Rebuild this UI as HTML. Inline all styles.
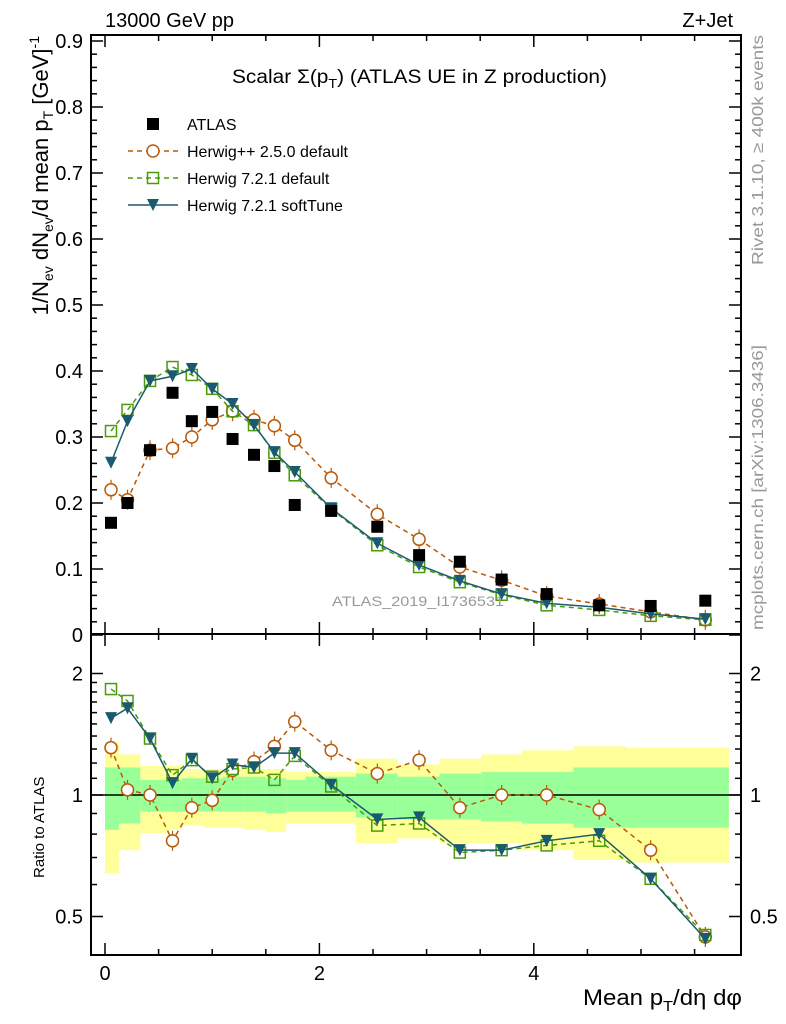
<!DOCTYPE html>
<html><head><meta charset="utf-8"><style>
body{margin:0;background:#fff;}
svg{display:block;font-family:"Liberation Sans",sans-serif;}
</style></head><body>
<svg id="c" width="786" height="1024" xmlns="http://www.w3.org/2000/svg">
<g id="bands"></g>
<g id="axes"></g>
<g id="series"></g>
<text x="105" y="27" font-size="20">13000 GeV pp</text>
<text x="733" y="27" font-size="20" text-anchor="end">Z+Jet</text>
<text x="232" y="83" font-size="19" textLength="375" lengthAdjust="spacingAndGlyphs">Scalar Σ(p<tspan font-size="13" dy="5">T</tspan><tspan dy="-5">) (ATLAS UE in Z production)</tspan></text>
<text x="332" y="606" font-size="14" fill="#999" textLength="172" lengthAdjust="spacingAndGlyphs">ATLAS_2019_I1736531</text>
<text transform="translate(763,265) rotate(-90)" font-size="16" fill="#999" textLength="230" lengthAdjust="spacingAndGlyphs">Rivet 3.1.10, ≥ 400k events</text>
<text transform="translate(763,630) rotate(-90)" font-size="16" fill="#999" textLength="285" lengthAdjust="spacingAndGlyphs">mcplots.cern.ch [arXiv:1306.3436]</text>
<text transform="translate(48,36) rotate(-90)" font-size="22" text-anchor="end">1/N<tspan font-size="14" dy="5">ev</tspan><tspan dy="-5"> dN</tspan><tspan font-size="14" dy="5">ev</tspan><tspan dy="-5">/d mean p</tspan><tspan font-size="14" dy="5">T</tspan><tspan dy="-5"> [GeV]</tspan><tspan font-size="14" dy="-9">-1</tspan></text>
<text transform="translate(44,878) rotate(-90)" font-size="15">Ratio to ATLAS</text>
<text x="583" y="1005" font-size="22" textLength="159" lengthAdjust="spacingAndGlyphs">Mean p<tspan font-size="15" dy="6">T</tspan><tspan dy="-6">/dη dφ</tspan></text>
<g id="legend"></g>
</svg>
<script>
const xs=[0.056,0.21,0.42,0.63,0.81,1.0,1.19,1.39,1.58,1.77,2.11,2.54,2.93,3.31,3.70,4.12,4.61,5.09,5.6];
const edges=[0,0.13,0.33,0.6,0.72,0.92,1.1,1.3,1.5,1.69,1.87,2.34,2.73,3.12,3.51,3.89,4.37,4.86,5.34,5.82];
const atlas=[0.170,0.200,0.280,0.367,0.324,0.338,0.297,0.273,0.256,0.197,0.188,0.164,0.121,0.111,0.084,0.062,0.045,0.044,0.052];
const hwpp=[0.220,0.205,0.280,0.283,0.300,0.326,0.339,0.326,0.317,0.295,0.238,0.183,0.145,0.103,0.083,0.059,0.047,0.035,0.023];
const hw721=[0.309,0.341,0.385,0.406,0.394,0.373,0.339,0.318,0.276,0.242,0.191,0.136,0.103,0.080,0.061,0.045,0.038,0.029,0.023];
const hwsoft=[0.261,0.324,0.385,0.392,0.403,0.373,0.350,0.318,0.277,0.247,0.192,0.139,0.106,0.082,0.062,0.048,0.042,0.032,0.024];
const rHwpp=[1.31,1.03,1.0,0.77,0.93,0.97,1.15,1.21,1.32,1.52,1.29,1.13,1.22,0.93,1.0,1.0,0.92,0.73,0.445];
const rHw721=[1.83,1.71,1.38,1.12,1.22,1.11,1.16,1.17,1.09,1.25,1.05,0.84,0.85,0.72,0.73,0.75,0.77,0.62,0.45];
const rSoft=[1.55,1.64,1.38,1.07,1.23,1.10,1.19,1.17,1.27,1.27,1.06,0.87,0.88,0.73,0.73,0.77,0.80,0.62,0.44];
const yelHi=[1.35,1.26,1.18,1.18,1.16,1.16,1.16,1.16,1.16,1.14,1.14,1.23,1.19,1.23,1.26,1.29,1.32,1.31,1.31];
const yelLo=[0.64,0.73,0.805,0.82,0.84,0.83,0.83,0.82,0.81,0.85,0.85,0.76,0.78,0.76,0.76,0.73,0.69,0.68,0.68];
const grnHi=[1.17,1.17,1.09,1.09,1.10,1.10,1.11,1.11,1.10,1.09,1.11,1.13,1.11,1.13,1.14,1.14,1.17,1.17,1.17];
const grnLo=[0.82,0.85,0.91,0.91,0.91,0.91,0.91,0.91,0.90,0.91,0.91,0.88,0.87,0.87,0.86,0.85,0.83,0.83,0.83];
const yTicks=[0,0.1,0.2,0.3,0.4,0.5,0.6,0.7,0.8,0.9];
const xTicks=[0,2,4];
const rTicks=[0.5,1,2];

const NS="http://www.w3.org/2000/svg";
const L=91,R=741,T=35,M=634,B=955;
const X=v=>105+v*107.2;
const Y=v=>635-v*660;
const RY=r=>795-121.5*Math.log2(r);
function mk(p,tag,at){const e=document.createElementNS(NS,tag);for(const k in at)e.setAttribute(k,at[k]);p.appendChild(e);return e;}
const bands=document.getElementById('bands'),axes=document.getElementById('axes'),ser=document.getElementById('series'),leg=document.getElementById('legend');

for(let i=0;i<xs.length;i++){
 const x0=X(edges[i]),x1=X(edges[i+1]);
 const y=mk(bands,'rect',{x:x0,y:RY(yelHi[i]),width:x1-x0,height:RY(yelLo[i])-RY(yelHi[i]),fill:'#ffff99'});
 
 
 const g=mk(bands,'rect',{x:x0,y:RY(grnHi[i]),width:x1-x0,height:RY(grnLo[i])-RY(grnHi[i]),fill:'#99ff99'});
 
 
}
mk(axes,'line',{x1:L,x2:R,y1:RY(1),y2:RY(1),stroke:'#000','stroke-width':1.5});
mk(axes,'rect',{x:L,y:T,width:R-L,height:M-T,fill:'none',stroke:'#000','stroke-width':2});
mk(axes,'rect',{x:L,y:M,width:R-L,height:B-M,fill:'none',stroke:'#000','stroke-width':2});
for(let v=0;v<=6;v+=0.5){const x=X(v);if(x>R)break;const maj=Math.abs(v%2)<1e-6;const len=maj?12:6;
 [[M,-1],[T,1],[B,-1],[M,1]].forEach(([y0,d])=>mk(axes,'line',{x1:x,x2:x,y1:y0,y2:y0+d*len,stroke:'#000','stroke-width':1.5}));}
xTicks.forEach(v=>{const t=mk(axes,'text',{x:X(v),y:980,'font-size':20,'text-anchor':'middle'});t.textContent=v;
 
 });
for(let v=0;v<=0.9001;v+=0.02){const y=Y(v);if(y<T)break;const maj=Math.abs(Math.round(v*50)%5)===0;const len=maj?12:6;
 mk(axes,'line',{x1:L,x2:L+len,y1:y,y2:y,stroke:'#000','stroke-width':1.5});mk(axes,'line',{x1:R,x2:R-len,y1:y,y2:y,stroke:'#000','stroke-width':1.5});}
yTicks.forEach(v=>{const t=mk(axes,'text',{x:83,y:Y(v)+7,'font-size':20,'text-anchor':'end'});t.textContent=v===0?'0':String(v);
 
 });
[0.4,0.5,0.6,0.7,0.8,0.9,1,1.1,1.2,1.3,1.4,1.5,1.6,1.7,1.8,1.9,2].forEach(v=>{const y=RY(v);if(y>B||y<M)return;const maj=rTicks.includes(v);const len=maj?12:6;
 mk(axes,'line',{x1:L,x2:L+len,y1:y,y2:y,stroke:'#000','stroke-width':1.5});mk(axes,'line',{x1:R,x2:R-len,y1:y,y2:y,stroke:'#000','stroke-width':1.5});});
rTicks.forEach(v=>{[[83,'end'],[750,'start']].forEach(([x,a])=>{const t=mk(axes,'text',{x:x,y:RY(v)+7,'font-size':20,'text-anchor':a});t.textContent=v;
 
 });});

function marker(g,type,x,y,col){
 if(type==='sq'){mk(g,'rect',{x:x-6,y:y-6,width:12,height:12,fill:'#000'});}
 else if(type==='circ'){mk(g,'line',{x1:x,x2:x,y1:y-10,y2:y+10,stroke:col,'stroke-width':1.2});mk(g,'circle',{cx:x,cy:y,r:6,fill:'#fff',stroke:col,'stroke-width':1.5});}
 else if(type==='osq'){mk(g,'rect',{x:x-5.5,y:y-5.5,width:11,height:11,fill:'none',stroke:col,'stroke-width':1.5});}
 else {mk(g,'path',{d:`M${x-6},${y-6}L${x+6},${y-6}L${x},${y+6}Z`,fill:col});}
}
function drawSeries(vals,fy,col,dash,type,name){
 const g=mk(ser,'g',{});
 
 
 if(col){const d=vals.map((v,i)=>(i?'L':'M')+X(xs[i])+','+fy(v)).join('');
  const p=mk(g,'path',{d:d,fill:'none',stroke:col,'stroke-width':1.5});if(dash)p.setAttribute('stroke-dasharray',dash);}
 vals.forEach((v,i)=>{const y=fy(v);if(y>B+5)return;marker(g,type,X(xs[i]),y,col);});
}
drawSeries(hwpp,Y,'#b85a0a','5,4','circ','herwigpp-250-line');
drawSeries(hw721,Y,'#4a9a0a','5,4','osq','herwig-721-default-line');
drawSeries(hwsoft,Y,'#1a5a70',null,'tri','herwig-721-softtune-line');
drawSeries(atlas,Y,null,null,'sq','atlas-data-points');
drawSeries(rHwpp,RY,'#b85a0a','5,4','circ','ratio-herwigpp-250');
drawSeries(rHw721,RY,'#4a9a0a','5,4','osq','ratio-herwig-721-default');
drawSeries(rSoft,RY,'#1a5a70',null,'tri','ratio-herwig-721-softtune');

const legItems=[['ATLAS',null,null,'sq'],['Herwig++ 2.5.0 default','#b85a0a','5,4','circ'],['Herwig 7.2.1 default','#4a9a0a','5,4','osq'],['Herwig 7.2.1 softTune','#1a5a70',null,'tri']];
legItems.forEach((it,i)=>{const y=124+i*27;const g=mk(leg,'g',{});
 
 
 if(it[1]){const l=mk(g,'line',{x1:128,x2:178,y1:y,y2:y,stroke:it[1],'stroke-width':1.5});if(it[2])l.setAttribute('stroke-dasharray',it[2]);}
 if(it[3]==='circ'){mk(g,'circle',{cx:153,cy:y,r:6,fill:'#fff',stroke:it[1],'stroke-width':1.5});}else marker(g,it[3],153,y,it[1]);
 const t=mk(g,'text',{x:187,y:y+6,'font-size':16});t.textContent=it[0];});
</script>
</body></html>
